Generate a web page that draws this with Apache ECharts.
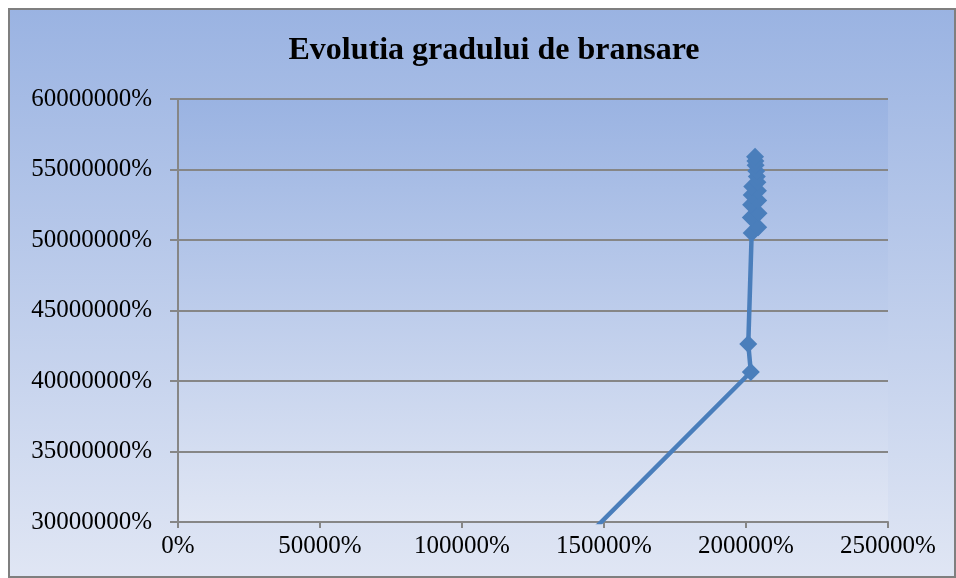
<!DOCTYPE html>
<html>
<head>
<meta charset="utf-8">
<script src="https://cdn.jsdelivr.net/npm/echarts@6/dist/echarts.min.js"></script>
<style>
html,body{margin:0;padding:0;background:#ffffff;}
#chart{width:956px;height:578px;}
</style>
</head>
<body>
<div id="chart"></div>
<script>
var titleText = 'Evolutia gradului de bransare';
var xTicks = [0, 50000, 100000, 150000, 200000, 250000];
var yTicks = [30000000, 35000000, 40000000, 45000000, 50000000, 55000000, 60000000];
var xValues = [134200, 201700, 200800, 202000, 204300, 201700, 204400, 201800, 204300, 202000, 204200, 202200, 204000, 203800, 203600, 203400, 203300, 203200];
var yValues = [27000000, 40640000, 42620000, 50500000, 50900000, 51600000, 51900000, 52500000, 52800000, 53200000, 53500000, 53800000, 54100000, 54500000, 54900000, 55300000, 55600000, 55900000];

var seriesData = xValues.map(function (x, i) { return [x, yValues[i]]; });

var chart = echarts.init(document.getElementById('chart'), null, {renderer: 'canvas'});
var bgGrad = new echarts.graphic.LinearGradient(0, 0, 0, 1, [
  {offset: 0, color: '#9ab3e2'},
  {offset: 1, color: '#e0e6f4'}
]);
var gridGrad = new echarts.graphic.LinearGradient(0, 0, 0, 1, [
  {offset: 0, color: '#9ab3e2'},
  {offset: 1, color: '#e0e6f4'}
]);
chart.setOption({
  animation: false,
  backgroundColor: '#ffffff',
  graphic: [{
    type: 'rect',
    z: -10,
    silent: true,
    shape: {x: 9, y: 9, width: 946, height: 568},
    style: {fill: bgGrad, stroke: '#7f7f7f', lineWidth: 2}
  }],
  title: {
    text: titleText,
    left: 489,
    textAlign: 'center',
    top: 30,
    textStyle: {
      fontFamily: 'Liberation Serif',
      fontWeight: 'bold',
      fontSize: 32,
      color: '#000000'
    }
  },
  grid: {
    left: 178, right: 68, top: 99, bottom: 56,
    show: true,
    backgroundColor: gridGrad,
    borderWidth: 0
  },
  xAxis: {
    type: 'value',
    min: xTicks[0],
    max: xTicks[xTicks.length - 1],
    interval: 50000,
    axisLine: {show: true, onZero: false, lineStyle: {color: '#868686', width: 2}},
    axisTick: {show: true, length: 6, lineStyle: {color: '#868686', width: 2}},
    splitLine: {show: false},
    axisLabel: {
      margin: 12,
      fontFamily: 'Liberation Serif',
      fontSize: 25,
      color: '#000000',
      formatter: function (v) { return v + '%'; }
    }
  },
  yAxis: {
    type: 'value',
    min: yTicks[0],
    max: yTicks[yTicks.length - 1],
    interval: 5000000,
    axisLine: {show: true, onZero: false, lineStyle: {color: '#868686', width: 2}},
    axisTick: {show: true, length: 8, lineStyle: {color: '#868686', width: 2}},
    splitLine: {show: true, lineStyle: {color: '#868686', width: 2}},
    axisLabel: {
      margin: 26,
      fontFamily: 'Liberation Serif',
      fontSize: 25,
      color: '#000000',
      formatter: function (v) { return v + '%'; }
    }
  },
  series: [{
    type: 'line',
    data: seriesData,
    smooth: false,
    clip: true,
    symbol: 'diamond',
    symbolSize: 18,
    showAllSymbol: true,
    lineStyle: {color: '#4a7ebb', width: 4.5},
    itemStyle: {color: '#4a7ebb'}
  }]
});
</script>
</body>
</html>
